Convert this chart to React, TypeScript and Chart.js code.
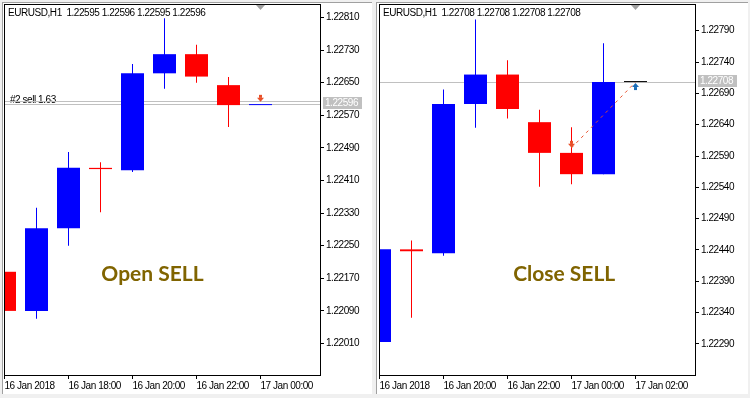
import React, { useEffect, useRef } from 'react';
import { Chart, registerables } from 'chart.js';

Chart.register(...registerables);

// ---------- data: left panel (16 Jan 16:00 .. 17 Jan 00:00, H1) ----------
const LEFT_OPEN = [1.22186, 1.2209, 1.22293, 1.22441, 1.22435, 1.22673, 1.2272, 1.22644, 1.22595];
const LEFT_HIGH = [1.22205, 1.22343, 1.2248, 1.22455, 1.22696, 1.22808, 1.22743, 1.22664, 1.22596];
const LEFT_LOW = [1.2208, 1.22071, 1.2225, 1.22332, 1.22431, 1.22635, 1.2265, 1.22541, 1.22595];
const LEFT_CLOSE = [1.2209, 1.22293, 1.22441, 1.22438, 1.22673, 1.2272, 1.22665, 1.22595, 1.22596];
const LEFT_X_TICKS = [0, 2, 4, 6, 8];
const LEFT_X_LABELS = ['16 Jan 2018', '16 Jan 18:00', '16 Jan 20:00', '16 Jan 22:00', '17 Jan 00:00'];
const LEFT_Y_TICKS = [1.2201, 1.2209, 1.2217, 1.2225, 1.2233, 1.2241, 1.2249, 1.2257, 1.2265, 1.2273, 1.2281];
const LEFT_Y_RANGE = [1.219327, 1.228431];
const LEFT_HEADER = 'EURUSD,H1  1.22595 1.22596 1.22595 1.22596';
const LEFT_BID = 1.22596;
const LEFT_ORDER_PRICE = 1.22605;
const LEFT_ORDER_TEXT = '#2 sell 1.63';
const LEFT_CAPTION = 'Open SELL';
const LEFT_SELL_INDEX = 8;

// ---------- data: right panel (16 Jan 18:00 .. 17 Jan 02:00, H1) ----------
const RIGHT_OPEN = [1.22293, 1.22441, 1.22435, 1.22673, 1.2272, 1.22644, 1.22595, 1.22561, 1.22708];
const RIGHT_HIGH = [1.2248, 1.22455, 1.22696, 1.22808, 1.22743, 1.22664, 1.22636, 1.2277, 1.22708];
const RIGHT_LOW = [1.2225, 1.22332, 1.22431, 1.22635, 1.2265, 1.22541, 1.22545, 1.22561, 1.22708];
const RIGHT_CLOSE = [1.22441, 1.22438, 1.22673, 1.2272, 1.22665, 1.22595, 1.22561, 1.22708, 1.22708];
const RIGHT_X_TICKS = [0, 2, 4, 6, 8];
const RIGHT_X_LABELS = ['16 Jan 2018', '16 Jan 20:00', '16 Jan 22:00', '17 Jan 00:00', '17 Jan 02:00'];
const RIGHT_Y_TICKS = [1.2229, 1.2234, 1.2239, 1.2244, 1.2249, 1.2254, 1.2259, 1.2264, 1.2269, 1.2274, 1.2279];
const RIGHT_Y_RANGE = [1.222405, 1.228326];
const RIGHT_HEADER = 'EURUSD,H1  1.22708 1.22708 1.22708 1.22708';
const RIGHT_BID = 1.22708;
const RIGHT_CAPTION = 'Close SELL';
const RIGHT_SELL_INDEX = 6;
const RIGHT_CLOSE_INDEX = 8;

// trade
const TRADE_OPEN_PRICE = 1.22603;
const TRADE_CLOSE_PRICE = 1.22708;

// x axis range in bar units (32 px per hourly bar)
const X_RANGE = [-0.015625, 9.859375];
const SHIFT_INDEX = 8;

const SMALL_FONT = "'Liberation Sans', Arial, sans-serif";
const SMALL_SIZE = 10;
const SMALL_SPACING = '-0.45px';
const BULL = '#0000FF';
const BEAR = '#FF0000';
const SELL_COLOR = '#E8502A';
const BUY_COLOR = '#1C6DB7';
const CAPTION_COLOR = '#806400';

interface PanelSpec {
  open: number[]; high: number[]; low: number[]; close: number[];
  xTicks: number[]; xLabels: string[];
  yTicks: number[]; yRange: number[];
  header: string; bid: number;
  orderPrice?: number; orderText?: string;
  caption: string; captionCenter: number;
  sellIndex: number; closeIndex?: number;
  axisWidth: number;
}

function candleColor(o: number, c: number) {
  if (c > o) return BULL;
  if (c < o) return BEAR;
  return '#000000';
}

function downArrow(ctx: CanvasRenderingContext2D, cx: number, tip: number, color: string) {
  ctx.fillStyle = color;
  ctx.fillRect(cx - 1.5, tip - 7, 3, 3);
  ctx.beginPath();
  ctx.moveTo(cx - 3.5, tip - 4);
  ctx.lineTo(cx + 3.5, tip - 4);
  ctx.lineTo(cx, tip);
  ctx.closePath();
  ctx.fill();
}

function upArrow(ctx: CanvasRenderingContext2D, cx: number, tip: number, color: string) {
  ctx.fillStyle = color;
  ctx.beginPath();
  ctx.moveTo(cx - 3.5, tip + 4);
  ctx.lineTo(cx + 3.5, tip + 4);
  ctx.lineTo(cx, tip);
  ctx.closePath();
  ctx.fill();
  ctx.fillRect(cx - 1.5, tip + 4, 3, 3);
}

function makeOverlay(s: PanelSpec) {
  return {
    id: 'mtOverlay',
    beforeDraw(chart: any) {
      (chart.ctx as any).letterSpacing = SMALL_SPACING;
    },
    beforeDatasetsDraw(chart: any) {
      const { ctx, chartArea: a, scales } = chart;
      const y = scales.y;
      ctx.save();
      if (s.orderText && s.orderPrice !== undefined) {
        const oy = Math.floor(y.getPixelForValue(s.orderPrice));
        ctx.fillStyle = '#000';
        ctx.font = `${SMALL_SIZE}px ${SMALL_FONT}`;
        ctx.textBaseline = 'alphabetic';
        ctx.textAlign = 'left';
        ctx.fillText(s.orderText, a.left + 6, oy + 1.5);
      }
      ctx.strokeStyle = '#C0C0C0';
      ctx.lineWidth = 1;
      const lines = [s.bid];
      if (s.orderPrice !== undefined) lines.push(s.orderPrice);
      for (const v of lines) {
        const py = Math.floor(y.getPixelForValue(v)) + 0.5;
        ctx.beginPath();
        ctx.moveTo(a.left, py);
        ctx.lineTo(a.right, py);
        ctx.stroke();
      }
      ctx.restore();
    },
    afterDraw(chart: any) {
      const { ctx, chartArea: a, scales } = chart;
      const x = scales.x;
      const y = scales.y;
      ctx.save();
      // trade
      const sx = x.getPixelForValue(s.sellIndex);
      const sy = y.getPixelForValue(TRADE_OPEN_PRICE);
      if (s.closeIndex !== undefined) {
        const cx = x.getPixelForValue(s.closeIndex);
        const cy = y.getPixelForValue(TRADE_CLOSE_PRICE);
        ctx.strokeStyle = SELL_COLOR;
        ctx.lineWidth = 1;
        ctx.setLineDash([3, 4]);
        ctx.beginPath();
        ctx.moveTo(sx, sy);
        ctx.lineTo(cx, cy);
        ctx.stroke();
        ctx.setLineDash([]);
        upArrow(ctx, cx, cy + 1, BUY_COLOR);
      }
      downArrow(ctx, sx, sy, SELL_COLOR);

      // frame
      ctx.strokeStyle = '#000';
      ctx.lineWidth = 1;
      ctx.strokeRect(Math.round(a.left) + 0.5, Math.round(a.top) + 0.5,
        Math.round(a.right - a.left), Math.round(a.bottom - a.top));

      // shift marker
      const tx = x.getPixelForValue(SHIFT_INDEX);
      ctx.fillStyle = '#A0A0A0';
      ctx.beginPath();
      ctx.moveTo(tx - 4.5, a.top + 1);
      ctx.lineTo(tx + 4.5, a.top + 1);
      ctx.lineTo(tx, a.top + 6);
      ctx.closePath();
      ctx.fill();

      // header
      ctx.fillStyle = '#000';
      ctx.font = `${SMALL_SIZE}px ${SMALL_FONT}`;
      ctx.textAlign = 'left';
      ctx.textBaseline = 'alphabetic';
      ctx.fillText(s.header, a.left + 4, a.top + 11.5);

      // bid price label
      const by = Math.floor(y.getPixelForValue(s.bid));
      ctx.fillStyle = '#C0C0C0';
      ctx.fillRect(a.right + 3, by - 7, 39, 12);
      ctx.fillStyle = '#FFFFFF';
      ctx.textBaseline = 'middle';
      ctx.fillText(s.bid.toFixed(5), a.right + 5, by - 0.5);

      // caption
      (ctx as any).letterSpacing = '0px';
      ctx.fillStyle = CAPTION_COLOR;
      ctx.font = `bold 21px Lato, 'Open Sans', sans-serif`;
      ctx.textAlign = 'center';
      ctx.textBaseline = 'alphabetic';
      ctx.fillText(s.caption, s.captionCenter, 277.7);
      ctx.restore();
    },
  };
}

function zeroPadding(sc: any) {
  sc.paddingTop = 0;
  sc.paddingBottom = 0;
  sc.paddingLeft = 0;
  sc.paddingRight = 0;
}

function buildConfig(s: PanelSpec): any {
  const idx = s.open.map((_, i) => i);
  const colors = idx.map((i) => candleColor(s.open[i], s.close[i]));
  const tickFont = { family: SMALL_FONT, size: SMALL_SIZE };
  return {
    type: 'bar',
    data: {
      datasets: [
        {
          data: idx.map((i) => ({ x: i, y: [s.low[i], s.high[i]] })),
          backgroundColor: colors,
          borderWidth: 0,
          barThickness: 1,
          inflateAmount: 0,
          grouped: false,
          clip: 0,
          order: 2,
        },
        {
          data: idx.map((i) => ({ x: i, y: [s.open[i], s.close[i]] })),
          backgroundColor: colors,
          borderWidth: 0,
          barThickness: 23,
          inflateAmount: 0,
          minBarLength: 1,
          grouped: false,
          clip: 0,
          order: 1,
        },
      ],
    },
    options: {
      animation: false,
      responsive: false,
      maintainAspectRatio: false,
      events: [],
      layout: { padding: { left: 1, top: 1, right: 0, bottom: 0 } },
      plugins: { legend: { display: false }, tooltip: { enabled: false }, title: { display: false } },
      scales: {
        x: {
          type: 'linear',
          position: 'bottom',
          min: X_RANGE[0],
          max: X_RANGE[1],
          offset: false,
          afterBuildTicks: (sc: any) => { sc.ticks = s.xTicks.map((v) => ({ value: v })); },
          afterFit: (sc: any) => { sc.height = 19; zeroPadding(sc); },
          ticks: {
            autoSkip: false,
            maxRotation: 0,
            minRotation: 0,
            align: 'start',
            padding: 1,
            color: '#000',
            font: tickFont,
            callback: (v: number) => {
              const k = s.xTicks.indexOf(v);
              return k >= 0 ? s.xLabels[k] : '';
            },
          },
          grid: { drawOnChartArea: false, drawTicks: true, tickLength: 4, color: '#000', offset: false },
          border: { display: false },
        },
        y: {
          type: 'linear',
          position: 'right',
          min: s.yRange[0],
          max: s.yRange[1],
          beginAtZero: false,
          afterBuildTicks: (sc: any) => { sc.ticks = s.yTicks.map((v) => ({ value: v })); },
          afterFit: (sc: any) => { sc.width = s.axisWidth; zeroPadding(sc); },
          ticks: {
            padding: 2,
            color: '#000',
            font: tickFont,
            callback: (v: number) => v.toFixed(5),
          },
          grid: { drawOnChartArea: false, drawTicks: true, tickLength: 4, color: '#000' },
          border: { display: false },
        },
      },
    },
    plugins: [makeOverlay(s)],
  };
}

function Panel({ spec, width, height }: { spec: PanelSpec; width: number; height: number }) {
  const ref = useRef<HTMLCanvasElement>(null);
  useEffect(() => {
    const chart = new Chart(ref.current as HTMLCanvasElement, buildConfig(spec));
    return () => chart.destroy();
  }, []);
  return <canvas ref={ref} width={width} height={height} style={{ display: 'block', width, height }} />;
}

const LEFT_SPEC: PanelSpec = {
  open: LEFT_OPEN, high: LEFT_HIGH, low: LEFT_LOW, close: LEFT_CLOSE,
  xTicks: LEFT_X_TICKS, xLabels: LEFT_X_LABELS,
  yTicks: LEFT_Y_TICKS, yRange: LEFT_Y_RANGE,
  header: LEFT_HEADER, bid: LEFT_BID,
  orderPrice: LEFT_ORDER_PRICE, orderText: LEFT_ORDER_TEXT,
  caption: LEFT_CAPTION, captionCenter: 149.5,
  sellIndex: LEFT_SELL_INDEX,
  axisWidth: 52,
};

const RIGHT_SPEC: PanelSpec = {
  open: RIGHT_OPEN, high: RIGHT_HIGH, low: RIGHT_LOW, close: RIGHT_CLOSE,
  xTicks: RIGHT_X_TICKS, xLabels: RIGHT_X_LABELS,
  yTicks: RIGHT_Y_TICKS, yRange: RIGHT_Y_RANGE,
  header: RIGHT_HEADER, bid: RIGHT_BID,
  caption: RIGHT_CAPTION, captionCenter: 186.2,
  sellIndex: RIGHT_SELL_INDEX, closeIndex: RIGHT_CLOSE_INDEX,
  axisWidth: 53,
};

export default function App() {
  return (
    <div style={{ position: 'fixed', left: 0, top: 0, width: 750, height: 398, background: '#F0F0F0', overflow: 'hidden' }}>
      <div style={{ position: 'absolute', left: 2, top: 2, width: 370, height: 392, borderLeft: '1px solid #A0A0A0', borderTop: '1px solid #A0A0A0', background: '#FFFFFF', boxSizing: 'border-box' }}>
        <Panel spec={LEFT_SPEC} width={369} height={391} />
      </div>
      <div style={{ position: 'absolute', left: 376, top: 2, width: 372, height: 392, borderLeft: '1px solid #A0A0A0', borderTop: '1px solid #A0A0A0', background: '#FFFFFF', boxSizing: 'border-box' }}>
        <div style={{ marginLeft: 1 }}>
          <Panel spec={RIGHT_SPEC} width={370} height={391} />
        </div>
      </div>
    </div>
  );
}
